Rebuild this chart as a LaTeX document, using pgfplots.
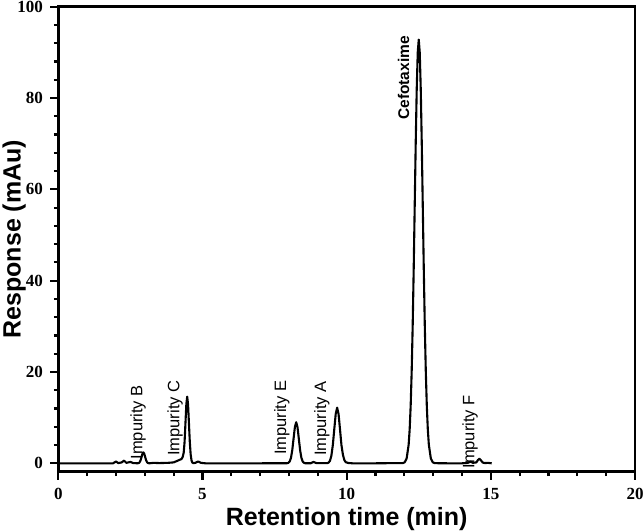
\documentclass[border=0pt]{standalone}
\usepackage{pgfplots}
\pgfplotsset{compat=1.18}
\usepackage{fontspec}
\setmainfont{Liberation Serif}
\newfontfamily\arial{Liberation Sans}
\begin{document}
\begin{tikzpicture}
\useasboundingbox (-58.3pt,-59.3pt) rectangle (585.7pt,471.7pt);
\begin{axis}[
  scale only axis,
  width=576.7pt, height=465pt,
  xmin=0, xmax=20, ymin=-1.84, ymax=100,
  xtick={0,5,10,15,20}, ytick={0,20,40,60,80,100},
  minor x tick num=4, minor y tick num=4,
  xtick pos=bottom, ytick pos=left,
  tick align=outside,
  major tick length=8pt, minor tick length=4.5pt,
  major tick style={line width=2.2pt, black},
  minor tick style={line width=2.2pt, black},
  /pgf/number format/assume math mode=true,
  tick label style={font=\fontsize{17}{17}\selectfont\bfseries},
  xticklabel style={yshift=-5pt},
  yticklabel style={xshift=-4pt},
  xlabel={\arial\bfseries Retention time (min)},
  ylabel={\arial\bfseries Response (mAu)},
  label style={font=\fontsize{25}{25}\selectfont},
  xlabel style={at={(axis description cs:0.5,0)}, anchor=north, yshift=-32pt},
  ylabel style={at={(axis description cs:0,0.5)}, anchor=south, yshift=29pt},
  clip=false,
]
\addplot[black, line width=2.1pt, line join=round] coordinates {
(0,0) (1.0,0) (1.9,0) (2.0,0.4) (2.08,0.05) (2.2,0.2) (2.28,0.6) (2.36,0.1) (2.5,0.3) (2.6,0.05) (2.7,0.02)
(2.74,0.005) (2.77,0.027) (2.80,0.105) (2.83,0.325) (2.86,0.78) (2.89,1.456) (2.92,2.118) (2.95,2.4) (2.98,2.118) (3.01,1.456) (3.04,0.78) (3.07,0.325) (3.10,0.105) (3.13,0.027) (3.16,0.005)
(3.3,0.1) (3.5,0.05) (3.8,0.1) (4.0,0.2) (4.15,0.6) (4.2,0.75) (4.26,0.9) (4.29,1.1) (4.32,1.5) (4.35,2.4)
(4.38,4.741) (4.41,8.855) (4.44,12.88) (4.47,14.6) (4.50,12.88) (4.53,8.855) (4.56,4.741) (4.59,1.976) (4.62,0.641) (4.65,0.162) (4.68,0.032)
(4.75,0.1) (4.85,0.4) (4.95,0.1) (5.1,0) (6.0,0) (7.0,0) (7.935,0.02)
(7.98,0.1) (8.025,0.395) (8.07,1.218) (8.115,2.922) (8.16,5.459) (8.205,7.943) (8.25,9.0) (8.295,7.943) (8.34,5.459) (8.385,2.922) (8.43,1.218) (8.475,0.395) (8.52,0.1) (8.565,0.02)
(8.75,0) (8.85,0.3) (8.95,0.05) (9.32,0.027)
(9.37,0.135) (9.42,0.536) (9.47,1.651) (9.52,3.961) (9.57,7.399) (9.62,10.767) (9.67,12.2) (9.72,10.767) (9.77,7.399) (9.82,3.961) (9.87,1.9) (9.92,0.7) (9.97,0.25) (10.05,0.08) (10.2,0)
(11.0,0) (11.8,0.05) (11.94,0.03) (12.01,0.204) (12.08,1.03) (12.15,4.074) (12.185,7.38) (12.22,12.56) (12.255,20.07) (12.29,30.13) (12.325,42.48) (12.36,56.28) (12.395,70.05) (12.43,81.9) (12.465,89.95) (12.5,92.8)
(12.535,89.95) (12.57,81.9) (12.605,70.05) (12.64,56.28) (12.675,42.48) (12.71,30.13) (12.745,20.07) (12.78,12.56) (12.815,7.38) (12.85,4.074) (12.92,1.03) (12.99,0.204) (13.06,0.03)
(13.5,0) (14.0,0) (14.2,0.1) (14.3,0.35) (14.38,0.1) (14.5,0.2) (14.55,0.7) (14.6,1.0) (14.65,0.7) (14.72,0.15) (14.8,0.05) (14.9,0.1) (15.03,0)
};
\draw[line width=2.6pt, line join=miter] (rel axis cs:0,0) rectangle (rel axis cs:1,1);
\begin{scope}[every node/.style={rotate=90, anchor=west, inner sep=0pt, font=\arial\fontsize{16.5}{16.5}\selectfont}]
\node at (axis cs:2.77,0.8) {Impurity B};
\node at (axis cs:4.05,1.6) {Impurity C};
\node at (axis cs:7.75,1.8) {Impurity E};
\node at (axis cs:9.14,1.6) {Impurity A};
\node at (axis cs:14.28,-1.2) {Impurity F};
\node[font=\arial\bfseries\fontsize{15.5}{15.5}\selectfont] at (axis cs:11.97,75.2) {Cefotaxime};
\end{scope}
\end{axis}
\end{tikzpicture}
\end{document}
